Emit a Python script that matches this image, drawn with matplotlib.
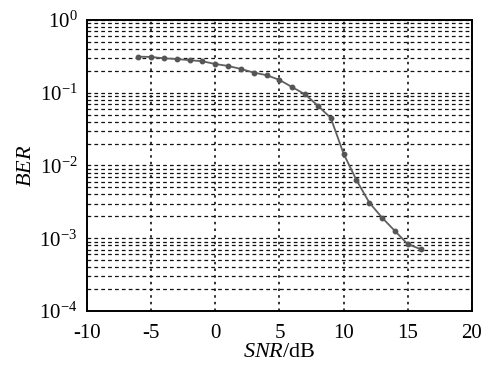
import matplotlib

matplotlib.use("Agg")
import matplotlib.pyplot as plt
from matplotlib.ticker import LogLocator, FixedLocator

# BER vs SNR curve
snr_db = [-6, -5, -4, -3, -2, -1, 0, 1, 2, 3, 4, 5, 6, 7, 8, 9, 10, 11, 12, 13, 14, 15, 16]
ber = [0.313, 0.31, 0.297, 0.29, 0.28, 0.27, 0.248, 0.233, 0.212, 0.189, 0.174, 0.15,
       0.119, 0.095, 0.066, 0.045, 0.0145, 0.0063, 0.0031, 0.00192, 0.00126, 0.00083, 0.00071]
x_ticks = [-10, -5, 0, 5, 10, 15, 20]
y_ticks = [1e-4, 1e-3, 1e-2, 1e-1, 1e0]
y_labels = ["$10^{-4}$", "$10^{-3}$", "$10^{-2}$", "$10^{-1}$", "$10^{0}$"]

plt.rcParams.update({
    "font.family": "Liberation Serif",
    "mathtext.fontset": "custom",
    "mathtext.rm": "Liberation Serif",
    "mathtext.it": "Liberation Serif:italic",
    "mathtext.default": "regular",
    "axes.unicode_minus": False,
    "font.size": 15,
})

fig = plt.figure(figsize=(4.89, 3.69), dpi=100)
ax = fig.add_axes([0.178, 0.157, 0.787, 0.789])

ax.semilogy(snr_db, ber, color="#606060", linewidth=1.3, marker="o",
            markersize=3.2, markerfacecolor="#555555", markeredgecolor="#555555", zorder=3)

ax.set_xlim(-10, 20)
ax.set_ylim(1e-4, 1)
ax.xaxis.set_major_locator(FixedLocator(x_ticks))
ax.set_xticklabels([str(t) for t in x_ticks])
ax.yaxis.set_major_locator(FixedLocator(y_ticks))
ax.set_yticklabels(y_labels)
ax.yaxis.set_minor_locator(LogLocator(base=10, subs=range(2, 10), numticks=20))
ax.yaxis.set_minor_formatter(plt.NullFormatter())

ax.grid(True, which="major", axis="x", color="#111111", linestyle=(0, (1.5, 2.5)), linewidth=1.2)
ax.grid(True, which="both", axis="y", color="#111111", linestyle=(0, (3, 2.5)), linewidth=0.9)
ax.tick_params(which="both", length=0)
ax.tick_params(axis="x", pad=9)
ax.tick_params(axis="y", pad=7)
for s in ax.spines.values():
    s.set_linewidth(1.4)

ax.set_xlabel("$\\mathit{SNR}$/dB", fontsize=16, labelpad=0)
ax.set_ylabel("$\\mathit{BER}$", fontsize=16, labelpad=2)

fig.savefig("out.png", dpi=100)
